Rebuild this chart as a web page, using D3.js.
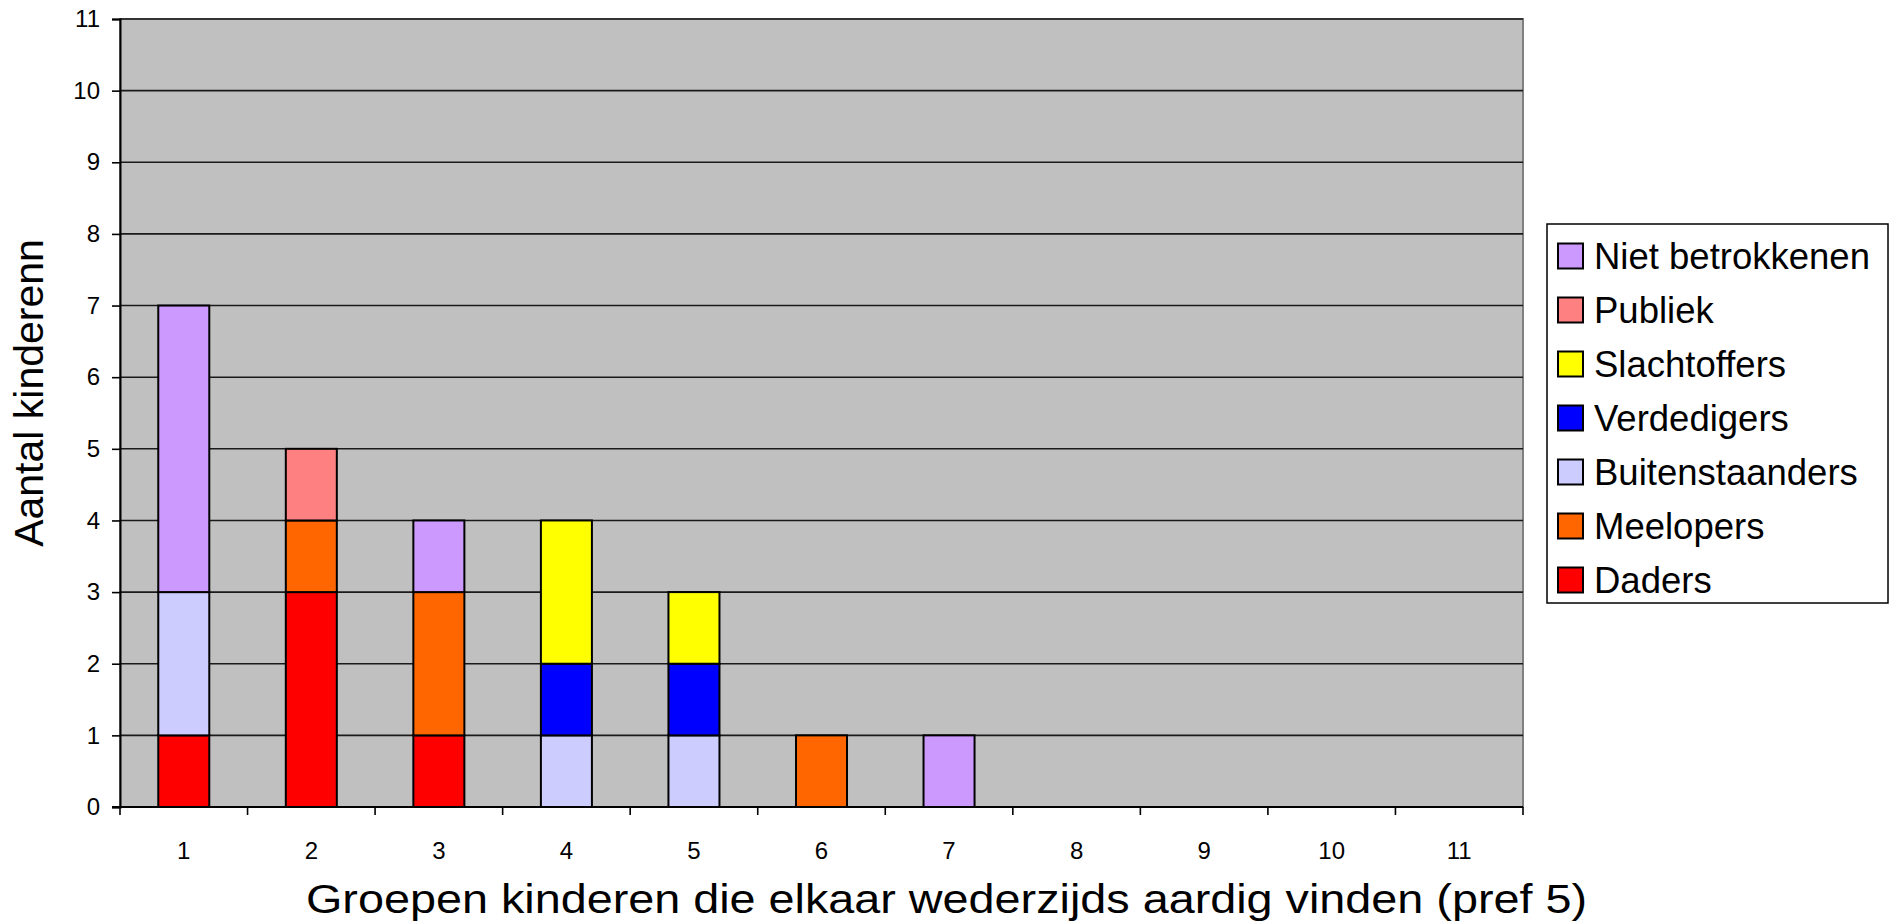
<!DOCTYPE html>
<html>
<head>
<meta charset="utf-8">
<script src="https://cdn.jsdelivr.net/npm/d3@7"></script>
<style>
  html, body { margin: 0; padding: 0; background: #fff; }
  svg { display: block; font-family: Arial, "Liberation Sans", sans-serif; }
</style>
</head>
<body>
<svg id="chart" width="1897" height="924"></svg>
<script>
// groepen 1..11
const groups = ["1", "2", "3", "4", "5", "6", "7", "8", "9", "10", "11"];

// rollen, van onder naar boven gestapeld
const roles = ["Daders", "Meelopers", "Buitenstaanders", "Verdedigers", "Slachtoffers", "Publiek", "Niet betrokkenen"];
const roleColors = ["#ff0000", "#ff6600", "#ccccff", "#0000ff", "#ffff00", "#ff8080", "#cc99ff"];

// aantal kinderen per rol en per groep
const daders          = [1, 3, 1, 0, 0, 0, 0, 0, 0, 0, 0];
const meelopers       = [0, 1, 2, 0, 0, 1, 0, 0, 0, 0, 0];
const buitenstaanders = [2, 0, 0, 1, 1, 0, 0, 0, 0, 0, 0];
const verdedigers     = [0, 0, 0, 1, 1, 0, 0, 0, 0, 0, 0];
const slachtoffers    = [0, 0, 0, 2, 1, 0, 0, 0, 0, 0, 0];
const publiek         = [0, 1, 0, 0, 0, 0, 0, 0, 0, 0, 0];
const nietBetrokken   = [4, 0, 1, 0, 0, 0, 1, 0, 0, 0, 0];

const yTicks = d3.range(0, 12);

const xTitle = "Groepen kinderen die elkaar wederzijds aardig vinden (pref 5)";
const yTitle = "Aantal kinderenn";

// tabel voor d3.stack
const series = [daders, meelopers, buitenstaanders, verdedigers, slachtoffers, publiek, nietBetrokken];
const table = groups.map((g, i) => {
  const row = { group: g };
  roles.forEach((r, k) => row[r] = series[k][i]);
  return row;
});

const svg = d3.select("#chart");

// plotgebied
const plot = { left: 120, right: 1523, top: 19, bottom: 807 };

const x = d3.scaleBand()
  .domain(groups)
  .range([plot.left, plot.right])
  .paddingInner(0.6)
  .paddingOuter(0.3);

const y = d3.scaleLinear()
  .domain([0, 11])
  .range([plot.bottom, plot.top]);

const color = d3.scaleOrdinal().domain(roles).range(roleColors);

// achtergrond
svg.append("rect")
  .attr("x", plot.left).attr("y", plot.top)
  .attr("width", plot.right - plot.left)
  .attr("height", plot.bottom - plot.top)
  .attr("fill", "#c0c0c0")
  .attr("stroke", "#808080")
  .attr("stroke-width", 2);

// rasterlijnen
svg.append("g")
  .selectAll("line")
  .data(yTicks.filter(d => d > 0))
  .join("line")
  .attr("x1", plot.left).attr("x2", plot.right)
  .attr("y1", d => y(d)).attr("y2", d => y(d))
  .attr("stroke", "#1a1a1a")
  .attr("stroke-width", 1.6);

// gestapelde staven
const stacked = d3.stack().keys(roles)(table);

svg.append("g")
  .selectAll("g")
  .data(stacked)
  .join("g")
  .attr("fill", d => color(d.key))
  .selectAll("rect")
  .data(d => d.filter(s => s[1] - s[0] > 0))
  .join("rect")
  .attr("x", d => x(d.data.group))
  .attr("width", x.bandwidth())
  .attr("y", d => y(d[1]))
  .attr("height", d => y(d[0]) - y(d[1]))
  .attr("stroke", "#000")
  .attr("stroke-width", 2);

// y-as
const yAxis = svg.append("g")
  .attr("transform", `translate(${plot.left},0)`)
  .call(d3.axisLeft(y).tickValues(yTicks).tickSize(8).tickPadding(12).tickFormat(d3.format("d")));
yAxis.select(".domain").attr("stroke", "#000").attr("stroke-width", 2);
yAxis.selectAll(".tick line").attr("stroke", "#000").attr("stroke-width", 1.6);
yAxis.selectAll("text").attr("font-size", 24).attr("fill", "#000");

// x-as, streepjes tussen de groepen
const xAxisG = svg.append("g").attr("transform", `translate(0,${plot.bottom})`);
xAxisG.append("line")
  .attr("x1", plot.left - 8).attr("x2", plot.right)
  .attr("stroke", "#000").attr("stroke-width", 2);
xAxisG.selectAll("line.tick")
  .data(d3.range(groups.length + 1))
  .join("line")
  .attr("class", "tick")
  .attr("x1", i => plot.left + i * x.step())
  .attr("x2", i => plot.left + i * x.step())
  .attr("y1", 0).attr("y2", 8)
  .attr("stroke", "#000").attr("stroke-width", 1.6);
xAxisG.selectAll("text")
  .data(groups)
  .join("text")
  .attr("x", d => x(d) + x.bandwidth() / 2)
  .attr("y", 52)
  .attr("text-anchor", "middle")
  .attr("font-size", 24)
  .text(d => d);

// as-titels (de x-titel is in het origineel wat breed uitgerekt)
svg.append("text")
  .attr("x", 306).attr("y", 913)
  .attr("font-size", 40)
  .attr("textLength", 1281)
  .attr("lengthAdjust", "spacingAndGlyphs")
  .text(xTitle);

svg.append("text")
  .attr("transform", "translate(43,393) rotate(-90)")
  .attr("text-anchor", "middle")
  .attr("font-size", 41)
  .text(yTitle);

// legenda
const legend = svg.append("g");
legend.append("rect")
  .attr("x", 1547).attr("y", 224)
  .attr("width", 341).attr("height", 379)
  .attr("fill", "#fff")
  .attr("stroke", "#000")
  .attr("stroke-width", 1.5);

const legendRoles = roles.slice().reverse();
const item = legend.selectAll("g.item")
  .data(legendRoles)
  .join("g")
  .attr("class", "item")
  .attr("transform", (d, i) => `translate(1558,${256 + i * 54})`);
item.append("rect")
  .attr("x", 0).attr("y", -12.5)
  .attr("width", 25).attr("height", 25)
  .attr("fill", d => color(d))
  .attr("stroke", "#000")
  .attr("stroke-width", 2);
item.append("text")
  .attr("x", 36).attr("y", 13)
  .attr("font-size", 36.5)
  .text(d => d);
</script>
</body>
</html>
